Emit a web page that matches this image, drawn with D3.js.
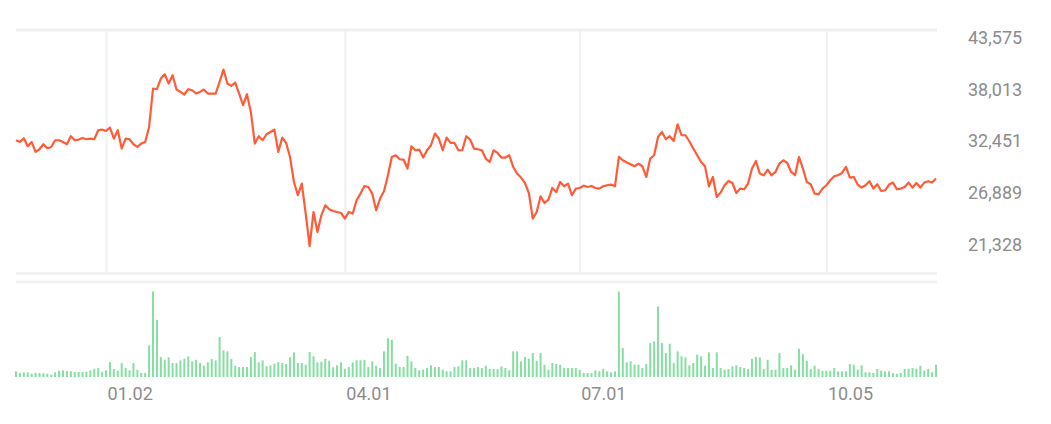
<!DOCTYPE html>
<html>
<head>
<meta charset="utf-8">
<script src="https://cdn.jsdelivr.net/npm/d3@7/dist/d3.min.js"></script>
<style>
html,body{margin:0;padding:0;background:#fff;}
svg{display:block;font-family:Roboto,"Noto Sans",sans-serif;}
</style>
</head>
<body>
<svg id="chart" width="1051" height="424"></svg>
<script>
const prices = [
32462,32280,32677,31818,32280,31206,31496,32033,31603,31743,
32462,32462,32280,32033,32892,32462,32537,32709,32570,32645,
32570,33536,33611,33461,33826,32645,33536,31571,32645,32570,
32033,31743,32108,32280,33890,38013,37938,39087,39549,38550,
39441,37906,37648,37369,37938,37831,37476,37648,37906,37476,
37476,37476,38722,40053,38550,38292,38657,37476,36220,37401,
35469,32108,32892,32462,33106,33353,33611,31206,32752,32172,
30669,27985,26557,27813,24592,21113,24764,22617,24409,25483,
25054,24871,24764,24656,24055,24764,24592,26020,26739,27555,
27448,26739,24946,26203,26986,28704,30669,30852,30422,30390,
29424,31818,31388,31464,30605,31388,31925,33182,32645,31388,
32752,32172,32172,31388,31388,32892,32537,31571,31496,31388,
30497,30132,31388,31098,30605,30605,30852,29595,28886,28457,
27877,26804,24055,24764,26449,25730,26095,27341,26911,27985,
27523,27813,26557,27276,27341,27598,27448,27555,27341,27276,
27523,27631,27706,27523,30669,30315,30068,29885,29671,29961,
29671,28522,30497,30852,32816,33353,32570,32892,32387,34180,
32999,32999,32355,31571,30852,30132,29671,27523,28522,26374,
26847,27631,28092,27877,26804,27276,27201,27813,29424,30239,
28887,28704,29316,28704,29059,29961,30315,30025,29059,28704,
30669,29424,27985,27738,26739,26664,27276,27631,28167,28597,
28704,28951,29595,28457,28522,27706,27384,27631,28060,27276,
27738,27019,27094,27706,27920,27201,27276,27448,27920,27384,
27877,27384,27920,28060,27920,28350
];
const volumes = [
5.7,4,4.7,4.7,3.3,4.3,4,3.7,3.3,2.3,
4.7,6.3,6.7,6,5.7,5,5,5,5.3,6.7,
8.3,9,5,6.7,15,8,6.3,14,9,6.7,
14,7.3,4,4,31.7,85.7,57.3,20,17.3,19.7,
14,14,16.7,18.3,20.7,15.7,17.3,14,11.3,14.7,
18,16.7,40,26.7,25.7,18,11.3,10,10,10,
20,25,14.7,16.7,10.7,11.7,13.3,15,14,13,
19.7,24.7,14,14,12.3,25,20.7,14.7,15.3,18.3,
16.3,9.7,11.7,14.7,8.3,10,14.7,16.7,16.7,17.3,
10,15.7,11.3,9,25.7,39,37.3,13.3,10,10,
21.3,15.7,9,6.7,7.3,9,11.7,10,10,7.3,
5.7,5.7,10,10.7,16.7,16.7,9,9,10,9,
11.3,8,8,8,10.7,9,6.7,25.7,25.7,15.7,
20,18.3,24,16.3,24,12.3,7.3,14,13,12.3,
9,9,9,9,7.3,4,4,4,6.7,5.7,
8.3,5.7,4.7,5.7,85.7,29,14.7,15.7,12.3,12.3,
9,13,34,35.7,70.7,34,24,33.3,14,25.7,
20.7,19.7,11.7,14,22.3,20.7,11.3,24.7,9,24.7,
9,7.3,8,10.7,11.7,10,9,8,18.3,20,
19.7,8,17.3,7.3,7.3,24,9,9,11.7,7.3,
28.3,23,16.3,8,11.3,8.3,6.3,6.3,6.3,9,
5.7,5.7,5.7,13,12.3,7.3,11.7,4.7,4.7,4,
8,6.3,5.7,5.7,4,3.3,4,8,8.3,9,
8.3,11.3,6.3,8,4.7,12.3
];
const priceTicks = [21328, 26889, 32451, 38013, 43575];
const dateTickIndex = [23, 84, 144, 207];
const dateTickLabels = ["01.02", "04.01", "07.01", "10.05"];

const svg = d3.select("#chart");
const gridColor = "#efefef";
const textColor = "#8c8c8c";

const x = d3.scaleLinear().domain([0, prices.length - 1]).range([16, 936]);
const y = d3.scaleLinear().domain([21328, 43575]).range([244, 36.7]);
const yv = d3.scaleLinear().domain([0, d3.max(volumes)]).range([377, 291.5]);

// frame lines
svg.append("line").attr("x1", 16).attr("x2", 937).attr("y1", 30).attr("y2", 30)
  .attr("stroke", gridColor).attr("stroke-width", 3);
svg.append("line").attr("x1", 16).attr("x2", 937).attr("y1", 273.5).attr("y2", 273.5)
  .attr("stroke", gridColor).attr("stroke-width", 2.5);
svg.append("line").attr("x1", 16).attr("x2", 937).attr("y1", 282).attr("y2", 282)
  .attr("stroke", gridColor).attr("stroke-width", 2.5);

// vertical grid via axis
const gridAxis = d3.axisBottom(x).tickValues(dateTickIndex).tickSize(-243).tickFormat("");
const gg = svg.append("g").attr("transform", "translate(0,273)").call(gridAxis);
gg.select(".domain").remove();
gg.selectAll("line").attr("stroke", gridColor).attr("stroke-width", 2);

// volume bars
svg.append("g").selectAll("rect").data(volumes).join("rect")
  .attr("x", (d, i) => x(i) - 1)
  .attr("width", 2)
  .attr("y", d => yv(d))
  .attr("height", d => yv(0) - yv(d))
  .attr("fill", "#86dfa2");

// price line
svg.append("path").datum(prices)
  .attr("fill", "none")
  .attr("stroke", "#ff5b36")
  .attr("stroke-width", 2.2)
  .attr("stroke-linejoin", "round")
  .attr("d", d3.line().x((d, i) => x(i)).y(d => y(d)));

// y axis labels
const yAxis = d3.axisRight(y).tickValues(priceTicks).tickSize(0).tickPadding(0).tickFormat(d3.format(","));
const ya = svg.append("g").attr("transform", "translate(968,0)").call(yAxis);
ya.select(".domain").remove();
ya.selectAll("text").attr("fill", textColor).attr("font-size", 18)
  .attr("font-family", "Roboto, sans-serif").attr("dy", "0.36em");

// x axis labels
const xAxis = d3.axisBottom(x).tickValues(dateTickIndex).tickSize(0).tickPadding(0)
  .tickFormat((d, i) => dateTickLabels[i]);
const xa = svg.append("g").attr("transform", "translate(0,386)").call(xAxis);
xa.select(".domain").remove();
xa.selectAll("text").attr("fill", textColor).attr("font-size", 18)
  .attr("font-family", "Roboto, sans-serif").attr("text-anchor", "start")
  .attr("x", 1).attr("dy", "0.75em");
</script>
</body>
</html>
